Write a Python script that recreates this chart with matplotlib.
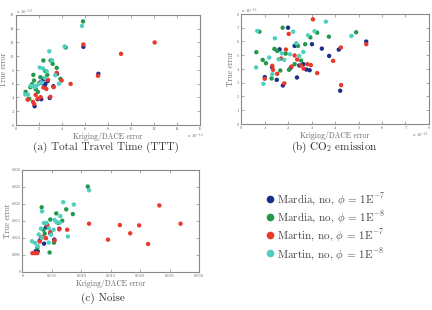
import numpy as np
import matplotlib.pyplot as plt
from matplotlib.lines import Line2D

plt.rcParams["font.family"] = ["cmr10", "DejaVu Serif"]
plt.rcParams["mathtext.fontset"] = "cm"
plt.rcParams["axes.unicode_minus"] = False

# ---------------------------
# Colours / labels
# ---------------------------
C_MARDIA7 = "#1a2e8c"
C_MARDIA8 = "#22994a"
C_MARTIN7 = "#e8392a"
C_MARTIN8 = "#4fcfc0"

labels = [r"Mardia, no, $\phi$ = 1E$^{-7}$",
          r"Mardia, no, $\phi$ = 1E$^{-8}$",
          r"Martin, no, $\phi$ = 1E$^{-7}$",
          r"Martin, no, $\phi$ = 1E$^{-8}$"]
colors = [C_MARDIA7, C_MARDIA8, C_MARTIN7, C_MARTIN8]

# ---------------------------
# (a) TTT data (x, y in units of the offset exponent)
# ---------------------------
ttt_mardia7_x = [5.86, 7.16, 3.57, 2.75, 2.55, 2.38, 2.09, 2.46, 3.25, 2.93, 2.20, 1.88, 1.62, 1.07, 2.29]
ttt_mardia7_y = [11.36, 7.43, 7.43, 6.36, 5.92, 6.65, 6.16, 5.68, 5.63, 3.93, 3.74, 3.74, 2.72, 3.74, 6.16]
ttt_mardia8_x = [5.83, 4.32, 2.38, 3.01, 3.19, 3.54, 2.55, 1.51, 2.12, 2.72, 1.57, 3.86, 1.39, 1.71, 0.84, 1.91, 1.16, 1.25]
ttt_mardia8_y = [15.05, 11.26, 9.37, 9.37, 8.88, 8.30, 7.82, 7.28, 6.94, 7.28, 6.46, 6.70, 5.92, 5.19, 4.81, 4.81, 3.79, 5.49]
ttt_martin7_x = [12.06, 9.13, 5.86, 7.13, 4.75, 3.97, 3.54, 2.78, 3.28, 2.38, 2.64, 2.99, 2.14, 1.91, 1.71, 1.48, 1.57, 1.01, 2.00]
ttt_martin7_y = [11.99, 10.34, 11.70, 7.14, 5.97, 6.46, 7.57, 6.55, 5.49, 5.44, 5.24, 4.08, 4.03, 3.83, 4.37, 3.35, 3.06, 3.69, 6.07]
ttt_martin8_x = [5.74, 4.23, 2.90, 2.06, 2.35, 3.13, 2.67, 3.42, 2.49, 3.74, 1.28, 1.54, 1.77, 2.00, 0.81, 1.04, 1.62, 2.26]
ttt_martin8_y = [14.4, 11.4, 10.7, 8.35, 8.2, 9.4, 7.8, 7.23, 6.85, 6.0, 5.68, 5.68, 5.68, 5.97, 4.42, 4.42, 5.49, 6.16]

# ---------------------------
# (b) CO2 data
# ---------------------------
co2_mardia7_x = [2.00, 5.33, 3.02, 3.44, 4.16, 1.64, 2.28, 2.65, 2.78, 2.92, 2.48, 2.11, 1.32, 1.01, 1.52, 2.38, 1.78, 4.22, 3.75]
co2_mardia7_y = [7.00, 5.99, 5.80, 5.48, 5.41, 5.43, 5.68, 4.35, 3.96, 3.91, 4.25, 4.08, 4.13, 3.41, 3.21, 3.38, 2.80, 2.42, 4.95]
co2_mardia8_x = [0.78, 1.77, 2.95, 3.24, 3.74, 4.90, 0.65, 1.42, 1.54, 1.90, 2.42, 2.73, 2.56, 2.28, 2.04, 1.67, 0.92, 1.06, 1.30]
co2_mardia8_y = [6.71, 7.00, 6.30, 6.64, 6.35, 6.67, 5.22, 5.46, 5.31, 5.12, 5.68, 5.80, 4.61, 4.35, 3.94, 3.89, 4.66, 4.42, 3.31]
co2_martin7_x = [3.06, 2.03, 5.33, 4.25, 1.91, 2.28, 2.39, 1.70, 2.54, 2.82, 2.97, 2.66, 2.15, 1.36, 1.33, 1.01, 1.54, 3.24, 3.92, 1.84, 4.26]
co2_martin7_y = [7.61, 6.55, 5.80, 5.56, 5.41, 4.98, 4.69, 4.76, 4.25, 4.35, 4.28, 4.03, 4.18, 3.94, 4.23, 3.29, 3.65, 3.70, 4.59, 2.95, 2.83]
co2_martin8_x = [0.69, 3.61, 2.22, 1.44, 2.85, 3.13, 4.70, 1.20, 1.74, 2.08, 2.35, 2.65, 2.48, 1.60, 1.84, 0.64, 1.33, 0.95]
co2_martin8_y = [6.76, 7.44, 6.71, 6.23, 6.45, 6.74, 6.40, 4.83, 5.14, 5.07, 5.87, 5.24, 4.95, 4.71, 4.66, 4.11, 3.62, 2.92]

# ---------------------------
# (c) Noise data (x10^-3)
# ---------------------------
noise_mardia7_x = [3.99, 6.25, 4.73, 2.93, 3.66, 5.40, 2.25, 2.59]
noise_mardia7_y = [13.1, 12.7, 11.3, 9.2, 8.3, 9.5, 6.1, 6.1]
noise_mardia8_x = [11.09, 7.43, 8.55, 3.26, 5.74, 4.73, 6.75, 6.08, 4.16, 3.55, 3.77, 5.35, 2.53, 4.61]
noise_mardia8_y = [25.1, 18.4, 17.0, 19.0, 17.2, 15.4, 15.05, 14.4, 13.6, 12.4, 11.3, 8.6, 7.1, 5.7]
noise_martin7_x = [23.24, 26.84, 11.31, 16.54, 19.81, 18.29, 14.52, 21.33, 4.22, 6.25, 7.60, 4.73, 3.55, 3.99, 3.15, 2.93, 5.46, 1.69, 2.14, 2.53]
noise_martin7_y = [19.55, 14.17, 14.17, 13.78, 13.68, 11.34, 9.48, 8.21, 13.8, 12.5, 12.4, 11.7, 10.3, 9.9, 10.1, 8.9, 9.2, 5.5, 5.5, 5.5]
noise_martin8_x = [11.31, 6.92, 8.72, 3.32, 6.42, 5.46, 5.80, 6.36, 3.66, 4.11, 3.15, 5.29, 4.50, 4.84, 2.76, 7.71, 1.63, 2.14, 4.45, 2.59, 3.32]
noise_martin8_y = [24.0, 20.5, 19.8, 17.8, 16.4, 15.25, 14.6, 14.5, 14.4, 14.4, 12.7, 12.4, 12.8, 10.9, 11.0, 10.4, 9.0, 8.5, 8.6, 7.6, 10.0]

GRAY = "#666666"
MS = 10


def style_axes(ax, ylabelpad=1):
    for sp in ax.spines.values():
        sp.set_color("#888888")
        sp.set_linewidth(0.8)
    ax.tick_params(direction="in", length=2, width=0.5, labelsize=3.2,
                   colors="#888888", labelcolor=GRAY, top=True, right=True, pad=1.5)
    ax.set_xlabel("Kriging/DACE error", fontsize=5.5, color=GRAY, labelpad=0.5)
    ax.set_ylabel("True error", fontsize=5.5, color=GRAY, labelpad=ylabelpad)


def scatter_sets(ax, sets):
    for (x, y), c in zip(sets, colors):
        ax.scatter(x, y, s=MS, color=c, edgecolors="none", zorder=3)


fig = plt.figure(figsize=(4.32, 3.10), dpi=100)

# (a) TTT
ax = fig.add_axes([0.037, 0.597, 0.426, 0.355])
scatter_sets(ax, [(ttt_mardia7_x, ttt_mardia7_y), (ttt_mardia8_x, ttt_mardia8_y),
                  (ttt_martin7_x, ttt_martin7_y), (ttt_martin8_x, ttt_martin8_y)])
ax.set_xlim(0, 16)
ax.set_ylim(0, 16)
ax.set_xticks(np.arange(0, 17, 2))
ax.set_yticks(np.arange(0, 17, 2))
style_axes(ax)
ax.text(0, 1.01, r"x 10$^{-12}$", transform=ax.transAxes, fontsize=3.5, color=GRAY)
ax.text(1.02, -0.12, r"x 10$^{-12}$", transform=ax.transAxes, fontsize=3.5, color=GRAY, ha="right")
fig.text(0.245, 0.515, "(a) Total Travel Time (TTT)", fontsize=8, color="#333333", ha="center")

# (b) CO2
ax = fig.add_axes([0.558, 0.600, 0.435, 0.355])
scatter_sets(ax, [(co2_mardia7_x, co2_mardia7_y), (co2_mardia8_x, co2_mardia8_y),
                  (co2_martin7_x, co2_martin7_y), (co2_martin8_x, co2_martin8_y)])
ax.set_xlim(0, 8)
ax.set_ylim(0, 8)
ax.set_xticks(np.arange(0, 9, 1))
ax.set_yticks(np.arange(0, 9, 1))
style_axes(ax)
ax.text(0, 1.01, r"x 10$^{-11}$", transform=ax.transAxes, fontsize=3.5, color=GRAY)
ax.text(1.0, -0.12, r"x 10$^{-11}$", transform=ax.transAxes, fontsize=3.5, color=GRAY, ha="right")
fig.text(0.773, 0.515, r"(b) CO$_2$ emission", fontsize=8, color="#333333", ha="center")

# (c) Noise
ax = fig.add_axes([0.052, 0.123, 0.409, 0.329])
scatter_sets(ax, [(np.array(noise_mardia7_x) / 1000, np.array(noise_mardia7_y) / 1000),
                  (np.array(noise_mardia8_x) / 1000, np.array(noise_mardia8_y) / 1000),
                  (np.array(noise_martin7_x) / 1000, np.array(noise_martin7_y) / 1000),
                  (np.array(noise_martin8_x) / 1000, np.array(noise_martin8_y) / 1000)])
ax.set_xlim(0, 0.030)
ax.set_ylim(0, 0.030)
ticks = np.arange(0, 0.0301, 0.005)
ax.set_xticks(ticks)
ax.set_yticks(ticks)
ax.set_xticklabels(["0"] + [f"{t:.3f}" for t in ticks[1:]])
ax.set_yticklabels(["0"] + [f"{t:.3f}" for t in ticks[1:]], fontsize=2.8)
style_axes(ax, ylabelpad=0)
ax.tick_params(axis="y", labelsize=2.8, pad=1)
fig.text(0.238, 0.03, "(c) Noise", fontsize=8, color="#333333", ha="center")

# legend
handles = [Line2D([0], [0], marker="o", linestyle="none", markersize=5.5,
                  markerfacecolor=c, markeredgecolor="none", label=l)
           for c, l in zip(colors, labels)]
fig.legend(handles=handles, loc="center left", bbox_to_anchor=(0.59, 0.27),
           frameon=False, fontsize=8, handletextpad=0.1, labelspacing=0.2,
           handlelength=1.0, labelcolor="#444444")

fig.savefig("out.png", dpi=100)
